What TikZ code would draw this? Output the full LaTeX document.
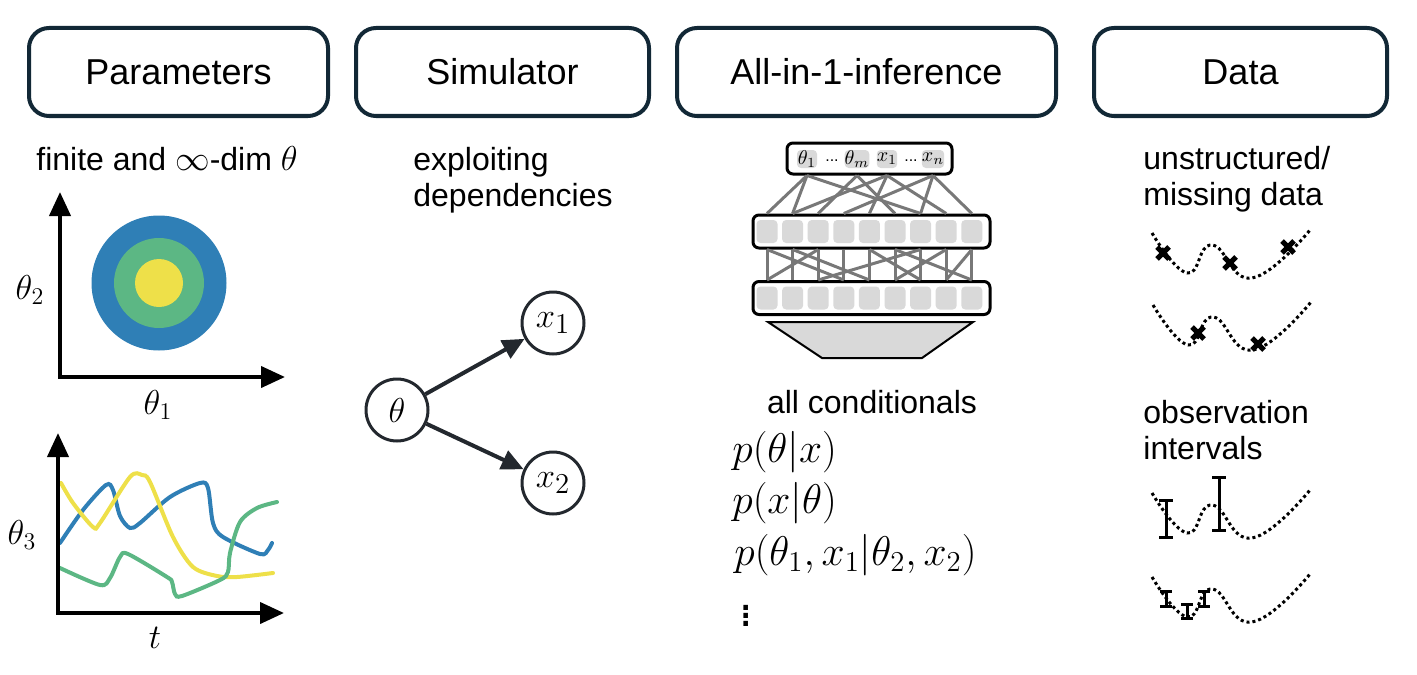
\documentclass[tikz,border=0pt]{standalone}
\usepackage{fontspec}
\setmainfont{Liberation Sans}
\usepackage{amsmath,amssymb}
\usetikzlibrary{arrows.meta,positioning}

\definecolor{boxnavy}{RGB}{18,40,54}
\definecolor{nodedark}{RGB}{35,40,46}
\definecolor{cblue}{RGB}{47,127,182}
\definecolor{cgreen}{RGB}{92,183,132}
\definecolor{cyellow}{RGB}{238,224,73}
\definecolor{cellgray}{RGB}{217,217,217}
\definecolor{linkgray}{RGB}{120,120,120}

\newcommand{\errbar}[4]{\draw[ebar] (#1,#2) -- (#1,#3) (#1-#4,#2) -- (#1+#4,#2) (#1-#4,#3) -- (#1+#4,#3);}

\tikzset{
	header/.style={draw=boxnavy, line width=2pt, rounded corners=10pt, minimum height=44pt, font=\fontsize{18}{21}\selectfont},
	body/.style={font=\fontsize{16}{18}\selectfont, inner sep=0pt},
	mathlbl/.style={font=\fontsize{18}{21}\selectfont, inner sep=0pt},
	condlbl/.style={font=\fontsize{20}{23}\selectfont, inner sep=0pt, anchor=west},
	axis/.style={line width=2pt, {Triangle[length=12pt,width=10.5pt]}-{Triangle[length=12pt,width=10.5pt]}},
	curve/.style={line width=2pt, line cap=round},
	rv/.style={circle, draw=nodedark, line width=1.5pt, minimum size=31pt, inner sep=0pt, font=\fontsize{19}{22}\selectfont},
	dep/.style={draw=nodedark, line width=2pt, -{Triangle[length=11pt,width=10pt]}},
	layer/.style={draw, line width=1.5pt, rounded corners=3pt, fill=white},
	cell/.style={fill=cellgray, rounded corners=2pt, minimum width=10.5pt, minimum height=11.5pt, inner sep=0pt},
	tok/.style={fill=cellgray, rounded corners=2pt, minimum width=10pt, minimum height=9pt, inner sep=0pt, font=\fontsize{10}{11}\selectfont},
	link/.style={draw=linkgray, line width=1.5pt},
	dotline/.style={line width=1.5pt, dash pattern=on 1.5pt off 1.5pt},
	ebar/.style={line width=1.5pt},
	wave/.pic={\draw[dotline] plot[smooth,tension=0.8] coordinates {(0,0) (35,40) (60,12) (100,45) (158,-3)};},
	xcross/.pic={\draw[line width=2.5pt] (-6,-6) -- (6,6) (-6,6) -- (6,-6);}
}

\begin{document}
\begin{tikzpicture}[x=0.5pt,y=-0.5pt]
	\useasboundingbox (0,0) rectangle (1417,674);
	% headers
	\node[header, minimum width=149.5pt] (par) at (178.5,72) {Parameters};
	\node[header, minimum width=146.5pt] (sim) at (502.5,72) {Simulator};
	\node[header, minimum width=189.5pt] (inf) at (866.5,72) {All-in-1-inference};
	\node[header, minimum width=146.5pt] (dat) at (1240.5,72) {Data};

	% parameters
	\node[body] (fin) at (167,159) {finite and $\infty$-dim $\theta$};
	\fill[cblue] (159,283) circle[radius=33.75pt];
	\fill[cgreen] (159,283) circle[radius=22.5pt];
	\fill[cyellow] (159,283) circle[radius=12pt];
	\coordinate (o1) at (60,377);
	\draw[axis] (60,192) -- (o1) -- (285,377);
	\node[mathlbl] (th2) at (30,290) {$\theta_2$};
	\node[mathlbl] (th1) at (158,405) {$\theta_1$};

	\draw[curve, cblue] plot[smooth] coordinates {(60,543) (83,510) (106,485) (113,490) (120,516) (130,528) (140,523) (170,497) (200,483) (208,488) (213,523) (223,537) (260,554) (268,550) (272,543)};
	\draw[curve, cyellow] plot[smooth] coordinates {(61,483) (73,503) (93,527) (100,523) (130,477) (142,475) (150,482) (173,537) (193,567) (217,576) (237,577) (273,573)};
	\draw[curve, cgreen] plot[smooth] coordinates {(60,568) (100,585) (110,578) (120,557) (128,554) (167,577) (172,582) (175,594) (182,596) (220,580) (228,572) (230,553) (240,522) (257,508) (277,502)};
	\coordinate (o2) at (58,613);
	\draw[axis] (58,433) -- (o2) -- (284,613);
	\node[mathlbl] (th3) at (22,535) {$\theta_3$};
	\node[mathlbl] (tt) at (155,638) {$t$};

	% simulator
	\node[body, anchor=north west, align=left] (expl) at (413,147) {exploiting\\dependencies};
	\node[rv] (th) at (397,410) {$\theta$};
	\node[rv] (xa) at (553,323) {$x_1$};
	\node[rv] (xb) at (553,483) {$x_2$};
	\draw[dep] (th) -- (xa);
	\draw[dep] (th) -- (xb);

	% network
	\node[layer, minimum width=82.5pt, minimum height=15.5pt] (inbox) at (869.5,158.5) {};
	\node[tok] (t1) at (807,159) {$\theta_1$};
	\node[font=\fontsize{8}{9}\selectfont] (d1) at (832,161) {...};
	\node[tok] (tm) at (857,159) {$\theta_m$};
	\node[tok] (tx) at (887,159) {$x_1$};
	\node[font=\fontsize{8}{9}\selectfont] (d2) at (911,161) {...};
	\node[tok] (tn) at (933,159) {$x_n$};
	\node[layer, minimum width=118.5pt, minimum height=16.5pt] (hida) at (871.5,231.5) {};
	\node[layer, minimum width=118.5pt, minimum height=16.5pt] (hidb) at (871.5,298) {};
	\foreach \i in {1,...,9} {
		\node[cell] (a\i) at ({741.4+25.6*\i},231.5) {};
		\node[cell] (b\i) at ({741.4+25.6*\i},298) {};
	}
	\foreach \s/\t in {t1/a1, t1/a2, t1/a7, tm/a3, tm/a6, tx/a2, tx/a5, tx/a8, tn/a7, tn/a9, tn/a4}
		\draw[link] (\s |- inbox.south) -- (\t |- hida.north);
	\foreach \s/\t in {1/1, 2/2, 3/3, 4/4, 5/5, 6/6, 7/7, 8/8, 9/9, 1/4, 3/1, 2/5, 5/7, 7/3, 8/6, 6/9, 9/8}
		\draw[link] (a\s |- hida.south) -- (b\t |- hidb.north);
	\draw[fill=cellgray, line width=1pt] (768,322) -- (973,322) -- (922,358) -- (822,358) -- cycle;

	% conditionals
	\node[body] (allc) at (872,402) {all conditionals};
	\node[condlbl] (c1) at (732,452) {$p(\theta|x)$};
	\node[condlbl] (c2) at (732,503) {$p(x|\theta)$};
	\node[condlbl] (c3) at (734,555) {$p(\theta_1, x_1|\theta_2, x_2)$};
	\node[condlbl, font=\fontsize{24}{26}\selectfont] (c4) at (739,610) {$\vdots$};

	% data
	\node[body, anchor=north west, align=left] (unst) at (1143,146) {unstructured/\\missing data};
	\pic at (1152,233) {wave};
	\pic at (1163,253) {xcross};
	\pic at (1230,263) {xcross};
	\pic at (1288,247) {xcross};
	\pic at (1153,305) {wave};
	\pic at (1198,333) {xcross};
	\pic at (1258,344) {xcross};

	\node[body, anchor=north west, align=left] (obsv) at (1143,400) {observation\\intervals};
	\pic at (1152,493) {wave};
	\errbar{1166}{500}{537}{7}
	\errbar{1219}{477}{530}{7}
	\pic at (1152,577) {wave};
	\errbar{1166}{591}{606}{6}
	\errbar{1187}{604}{618}{6}
	\errbar{1204}{591}{606}{6}
\end{tikzpicture}
\end{document}
